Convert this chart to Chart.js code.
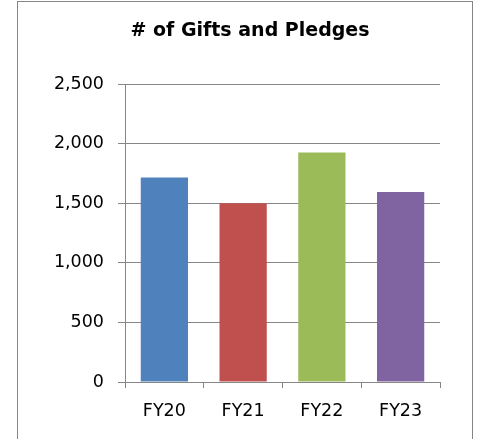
<!DOCTYPE html>
<html>
<head>
<meta charset="utf-8">
<script src="https://cdn.jsdelivr.net/npm/chart.js@4/dist/chart.umd.min.js"></script>
<style>
  html, body { margin: 0; padding: 0; background: #fff; }
  #wrap { width: 479px; height: 439px; position: relative; }
</style>
</head>
<body>
<div id="wrap"><canvas id="gifts"></canvas></div>
<script>
// ── Data ──────────────────────────────────────────────────────────────────────
const YEARS  = ['FY20', 'FY21', 'FY22', 'FY23'];
const GIFTS  = [1715, 1500, 1925, 1595];
const COLORS = ['#4F81BD', '#C0504D', '#9BBB59', '#8064A2'];
const Y_MAX  = 2500;
const Y_STEP = 500;

const GRID = '#868686';
const FONT = 'DejaVu Sans';

// ── Outer frame (Excel-style chart border) ────────────────────────────────────
const frame = {
  id: 'frame',
  // centre the title over the plot rather than the whole canvas
  afterLayout(chart) {
    const t = chart.titleBlock;
    if (t) { t.left = 60; t.right = 440; t.width = 380; }
  },
  beforeDraw(chart) {
    const ctx = chart.ctx;
    ctx.save();
    ctx.strokeStyle = GRID;
    ctx.lineWidth = 1;
    ctx.strokeRect(17.5, 1.5, 455, 500);
    ctx.restore();
  },
};

new Chart(document.getElementById('gifts'), {
  type: 'bar',
  data: {
    labels: YEARS,
    datasets: [{
      data: GIFTS,
      backgroundColor: COLORS,
      borderWidth: 0,
      barPercentage: 0.6,
      categoryPercentage: 1,
    }],
  },
  options: {
    responsive: true,
    maintainAspectRatio: false,
    animation: false,
    layout: { padding: { left: 20, right: 39, top: 0, bottom: 0 } },
    plugins: {
      legend: { display: false },
      tooltip: { enabled: false },
      title: {
        display: true,
        text: '# of Gifts and Pledges',
        color: '#000',
        font: { family: FONT, size: 19, weight: 'bold', lineHeight: 1.2 },
        padding: { top: 19.6, bottom: 41.6 },
      },
    },
    scales: {
      x: {
        offset: true,
        grid: { offset: true, drawOnChartArea: false, color: GRID, tickLength: 6 },
        border: { color: GRID, width: 1 },
        ticks: { color: '#000', padding: 13, font: { family: FONT, size: 17.5 } },
        afterFit(s) { s.height = 57; },
      },
      y: {
        min: 0,
        max: Y_MAX,
        grid: { color: GRID, tickLength: 7 },
        border: { color: GRID, width: 1 },
        ticks: {
          stepSize: Y_STEP,
          color: '#000',
          padding: 14,
          font: { family: FONT, size: 17.5 },
          callback: v => v.toLocaleString('en-US'),
        },
        afterFit(s) { s.width = 105; },
      },
    },
  },
  plugins: [frame],
});
</script>
</body>
</html>
